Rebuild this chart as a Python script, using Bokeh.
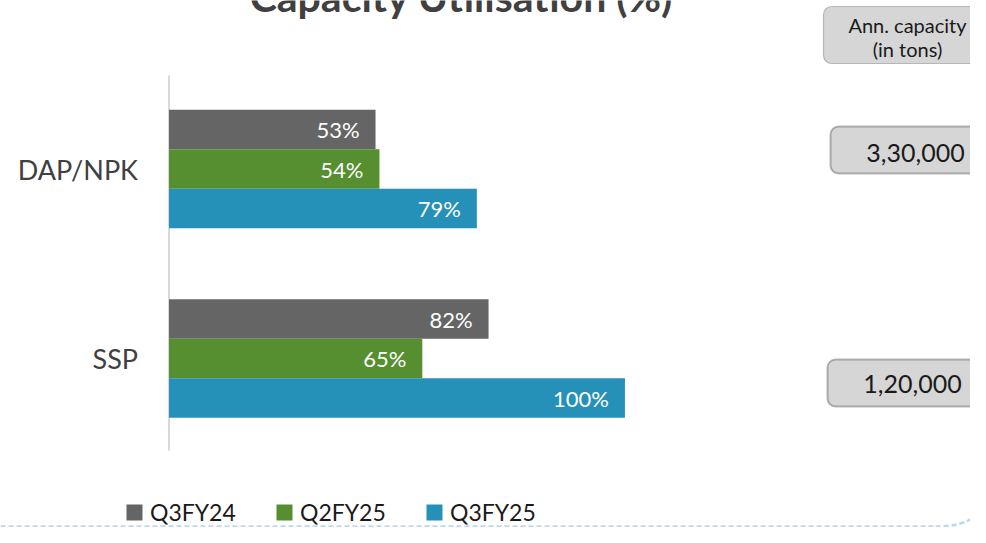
from bokeh.plotting import figure
from bokeh.models import Range1d, ColumnDataSource, BoxAnnotation, Legend, LegendItem
from bokeh.core.properties import value
from bokeh.embed import file_html
from bokeh.resources import INLINE

# ---------------- data ----------------
categories = ["DAP/NPK", "SSP"]
series_names = ["Q3FY24", "Q2FY25", "Q3FY25"]
q3fy24 = [53, 82]
q2fy25 = [54, 65]
q3fy25 = [79, 117]
q3fy24_labels = ["53%", "82%"]
q2fy25_labels = ["54%", "65%"]
q3fy25_labels = ["79%", "100%"]
capacity_header = ["Ann. capacity", "(in tons)"]
capacity_tons = ["3,30,000", "1,20,000"]
title_text = "Capacity Utilisation (%)"

series_colors = ["#656565", "#558f2f", "#2590b8"]

# ---------------- layout ----------------
W, H = 970, 527
ZERO_PX = 168.5      # pixel of 0 %
PX_PER_PCT = 3.897   # pixels per percent
TOP_PX = 168.5       # pixel centre of first category
GROUP_PX = 189.5     # pixels between categories
BAR_PX = 39.5        # bar thickness

x_range = Range1d(-ZERO_PX / PX_PER_PCT, (W - ZERO_PX) / PX_PER_PCT)
y_range = Range1d((H - TOP_PX) / GROUP_PX, -TOP_PX / GROUP_PX)

p = figure(width=W, height=H, x_range=x_range, y_range=y_range,
           output_backend="svg", toolbar_location=None,
           x_axis_location=None, y_axis_location=None,
           min_border=0, outline_line_color=None)
p.grid.visible = False
p.extra_x_ranges = {"px": Range1d(0, W)}
p.extra_y_ranges = {"px": Range1d(H, 0)}

FONT = "Lato"

# axis line
p.segment(x0=[0], x1=[0], y0=[75], y1=[450], y_range_name="px",
          line_color="#d9d9d9", line_width=2)

idx = list(range(len(categories)))
bh = BAR_PX / GROUP_PX
series = [
    (series_names[0], q3fy24, q3fy24_labels, series_colors[0], -bh),
    (series_names[1], q2fy25, q2fy25_labels, series_colors[1], 0.0),
    (series_names[2], q3fy25, q3fy25_labels, series_colors[2], bh),
]
renderers = []
for name, vals, labs, color, off in series:
    src = ColumnDataSource(dict(y=[i + off for i in idx], right=vals, label=labs))
    r = p.hbar(y="y", left=0, right="right", height=bh, source=src,
               fill_color=color, line_color=None)
    renderers.append((name, r))
    p.text(x="right", y="y", text="label", source=src, x_offset=-16,
           text_align="right", text_baseline="middle", text_color="white",
           text_font=value(FONT), text_font_size="22px")

# category labels
p.text(x=[0] * len(categories), y=idx, text=categories, x_offset=-31,
       text_align="right", text_baseline="middle", text_color="#404040",
       text_font=value(FONT), text_font_size="27px")

# title (cut at the top as in the slide)
p.text(x=[461], y=[-4], text=[title_text], x_range_name="px", y_range_name="px",
       text_align="center", text_baseline="alphabetic", text_color="#404040",
       text_font=value(FONT), text_font_style="bold", text_font_size="41px")

# capacity boxes
box_kw = dict(x_range_name="px", y_range_name="px", fill_color="#d6d6d6",
              fill_alpha=1.0, border_radius=8, level="underlay")
p.add_layout(BoxAnnotation(left=823, right=992, top=6, bottom=63,
                           line_color="#404040", line_width=1.2, **box_kw))
p.add_layout(BoxAnnotation(left=830, right=992, top=126, bottom=173,
                           line_color="#1a1a1a", line_width=2, **box_kw))
p.add_layout(BoxAnnotation(left=827, right=992, top=359, bottom=406,
                           line_color="#1a1a1a", line_width=2, **box_kw))

p.text(x=[907, 907], y=[24, 48], text=capacity_header, x_range_name="px",
       y_range_name="px", text_align="center", text_baseline="middle",
       text_color="#1a1a1a", text_font=value(FONT), text_font_size="20px")
p.text(x=[915, 912], y=[152, 383], text=capacity_tons, x_range_name="px",
       y_range_name="px", text_align="center", text_baseline="middle",
       text_color="#1a1a1a", text_font=value(FONT), text_font_size="25px")

# dashed slide border at the bottom
p.line(x=[0, 935], y=[526, 526], x_range_name="px", y_range_name="px",
       line_color="#bdd7ee", line_width=2.5, line_dash="5 3")
p.bezier(x0=[935], y0=[526], x1=[972], y1=[518], cx0=[955], cy0=[526],
         cx1=[964], cy1=[522], x_range_name="px", y_range_name="px",
         line_color="#bdd7ee", line_width=2.5, line_dash="5 3")

# legend
legend = Legend(items=[LegendItem(label=n, renderers=[r]) for n, r in renderers],
                orientation="horizontal", location=(124, 1),
                glyph_width=20, glyph_height=20, label_standoff=6,
                spacing=14, label_width=110, padding=0, margin=0,
                border_line_color=None, background_fill_alpha=0,
                label_text_font=FONT, label_text_font_size="23px",
                label_text_color="#1a1a1a")
p.add_layout(legend)

open("out.html", "w").write(file_html(p, INLINE))
